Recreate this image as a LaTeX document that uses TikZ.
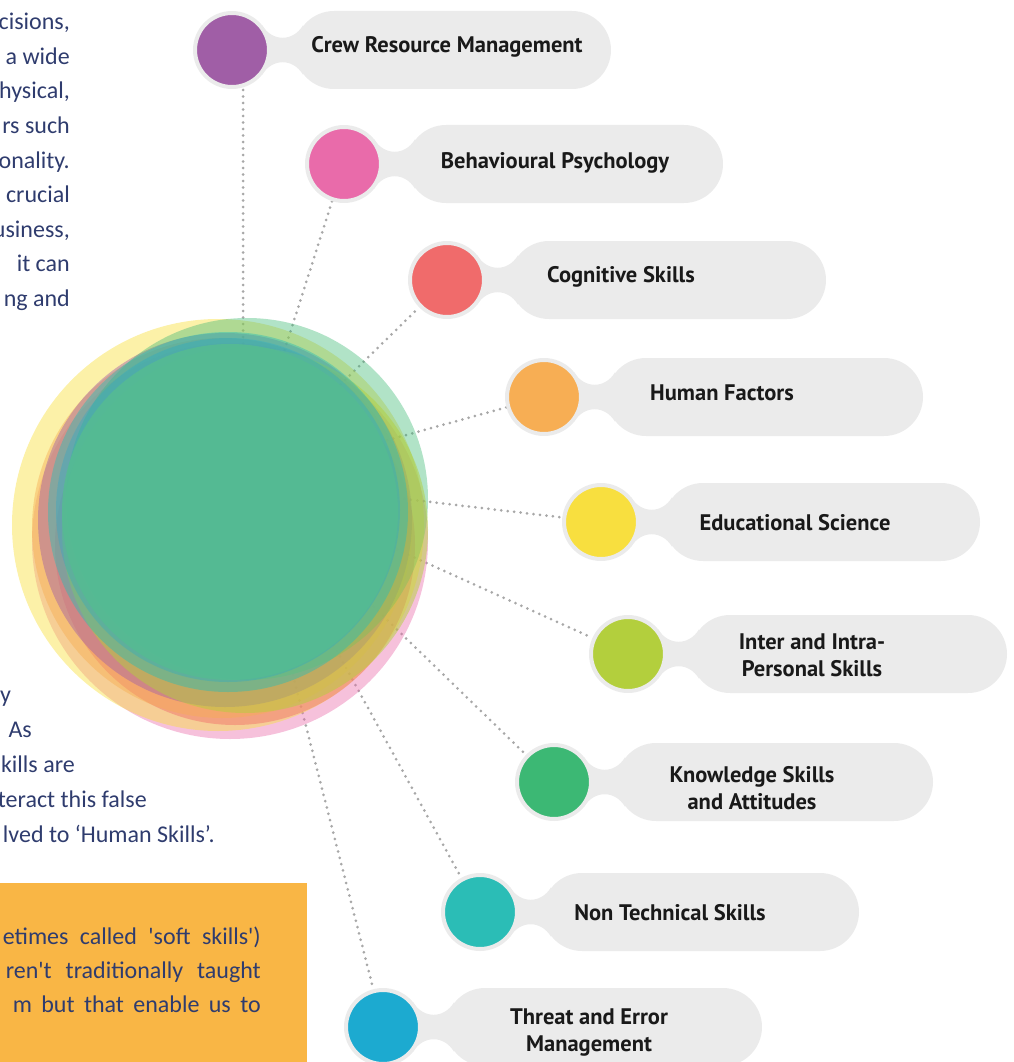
\documentclass[tikz,border=0pt]{standalone}
\usepackage{fontspec}
\setmainfont{Carlito}
\newfontfamily\labelfont{PT Sans}
\pgfdeclarelayer{lines}
\pgfdeclarelayer{cluster}
\pgfsetlayers{lines,cluster,main}
\definecolor{crewc}{HTML}{A05EA6}
\definecolor{behavc}{HTML}{E96BAA}
\definecolor{cognc}{HTML}{F06B6B}
\definecolor{humanc}{HTML}{F7AE54}
\definecolor{educ}{HTML}{F8DF3F}
\definecolor{interc}{HTML}{B3CF3D}
\definecolor{knowc}{HTML}{3CB874}
\definecolor{nontc}{HTML}{2BBDB6}
\definecolor{threatc}{HTML}{1CAAD0}
\definecolor{paleg}{HTML}{EBEBEB}
\definecolor{navy}{HTML}{2F3C6E}
\definecolor{boxor}{HTML}{F9B645}
\definecolor{dotg}{HTML}{A8A8A8}
\definecolor{coreg}{HTML}{55BC92}
\tikzset{
  pillbox/.style={rectangle, fill=paleg, minimum width=316pt, minimum height=78pt, rounded corners=39pt, inner sep=0pt},
  dotnode/.style={circle, draw=paleg, line width=4pt, minimum size=74pt, inner sep=0pt},
  labeltext/.style={font=\labelfont\bfseries\fontsize{22.5}{27}\selectfont, text=black!90, align=center, inner sep=0pt},
  bodytext/.style={font=\fontsize{24}{30}\selectfont, text=navy, inner sep=0pt, anchor=base east},
  dotline/.style={draw=dotg, line width=3pt, line cap=round, dash pattern=on 0pt off 6.5pt}
}
\newcommand\skill[5]{%
  \begin{scope}[shift={#2}]
    \fill[paleg] (29.9,25.1) .. controls (40,8) and (61,8) .. (71,24.7) -- (71,-24.7) .. controls (61,-8) and (40,-8) .. (29.9,-25.1) -- cycle;
    \node[pillbox] (#1p) at (221,0) {};
  \end{scope}
  \node[dotnode, fill=#3] (#1) at #2 {};
  \node[labeltext] (#1t) at #4 {#5};
}
\begin{document}
\begin{tikzpicture}[x=1pt, y=-1pt]
\useasboundingbox (0,0) rectangle (1013,1062);

% skill items
\skill{crew}{(232,50)}{crewc}{(447,47)}{Crew Resource Management}
\skill{behav}{(344,164)}{behavc}{(555,163)}{Behavioural Psychology}
\skill{cogn}{(447,280)}{cognc}{(621,277)}{Cognitive Skills}
\skill{human}{(544,397)}{humanc}{(722,393)}{Human Factors}
\skill{edu}{(601,522)}{educ}{(795,523)}{Educational Science}
\skill{inter}{(628,654)}{interc}{(812,655)}{Inter and Intra-\\Personal Skills}
\skill{know}{(554,782)}{knowc}{(752,788)}{Knowledge Skills\\and Attitudes}
\skill{nont}{(480,912)}{nontc}{(670,913)}{Non Technical Skills}
\skill{threat}{(383,1027)}{threatc}{(589,1032)}{Threat and Error\\Management}

% connectors
\coordinate (hub) at (243,480);
\begin{pgfonlayer}{lines}
\draw[dotline] (hub) -- (hub |- crew.south);
\foreach \n in {behav,cogn,human,edu,inter,know,nont,threat}
  \draw[dotline] (hub) -- (\n);
\end{pgfonlayer}

% overlapping cluster
\begin{pgfonlayer}{cluster}
\fill[behavc, opacity=0.42] (230,541) circle (198);
\fill[educ, opacity=0.45] (218,525) circle (206);
\fill[cognc, opacity=0.45] (235,545) circle (180);
\fill[humanc, opacity=0.45] (222,528) circle (190);
\fill[crewc, opacity=0.45] (225,520) circle (187);
\fill[knowc, opacity=0.4] (247,499) circle (181);
\fill[interc, opacity=0.5] (245,530) circle (183);
\fill[nontc, opacity=0.45] (228,512) circle (180);
\fill[threatc, opacity=0.3] (228,510) circle (172);
\fill[coreg, opacity=0.85] (230,512) circle (168);
\end{pgfonlayer}

% left text fragments
\node[bodytext] (t1) at (70,30) {cisions,};
\node[bodytext] (t2) at (70,64.5) {a wide};
\node[bodytext] (t3) at (70,99) {hysical,};
\node[bodytext] (t4) at (70,133.5) {rs such};
\node[bodytext] (t5) at (70,168) {onality.};
\node[bodytext] (t6) at (70,202.5) {crucial};
\node[bodytext] (t7) at (70,237) {usiness,};
\node[bodytext] (t8) at (70,271.5) {it can};
\node[bodytext] (t9) at (70,306) {ng and};

\node[bodytext, anchor=base west] (u1) at (0,702) {y};
\node[bodytext] (u2) at (32,737) {As};
\node[bodytext] (u3) at (75,772) {kills are};
\node[bodytext] (u4) at (147,807) {teract this false};
\node[bodytext] (u5) at (215,842) {lved to ‘Human Skills’.};

% orange box
\fill[boxor] (0,883) rectangle (307,1062);
\node[bodytext] (b1) at (261,944) {\makebox[258pt][s]{etimes called \textquotesingle soft skills\textquotesingle)}};
\node[bodytext] (b2) at (261,978) {\makebox[255pt][s]{ren\textquotesingle t traditionally taught}};
\node[bodytext] (b3) at (261,1012) {\makebox[248pt][s]{m but that enable us to}};
\end{tikzpicture}
\end{document}
